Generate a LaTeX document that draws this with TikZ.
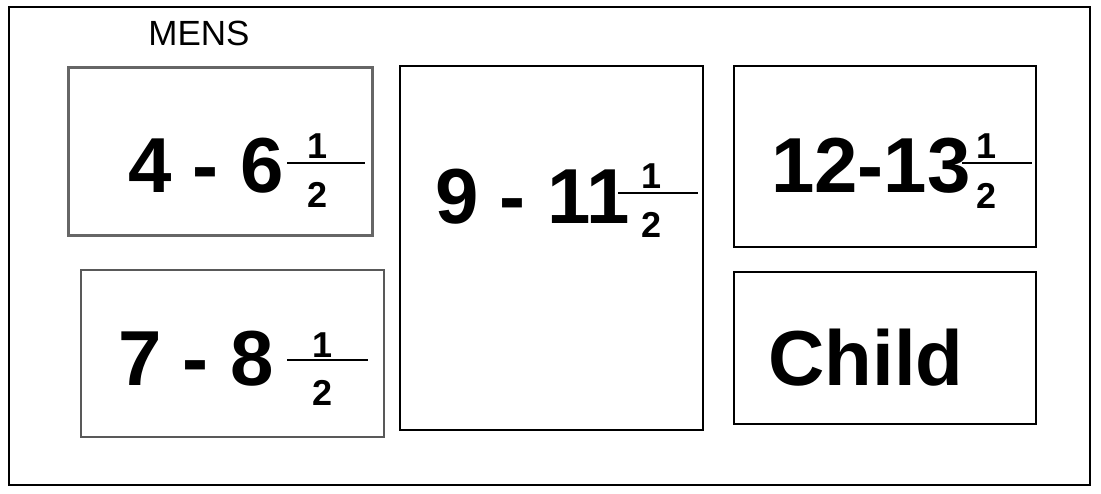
\documentclass[tikz,border=0pt]{standalone}
\usepackage{fontspec}
\setmainfont{Liberation Sans}
\begin{document}
\begin{tikzpicture}[x=1pt,y=-1pt,
  box/.style={draw=black,line width=1.5pt,inner sep=0pt,outer sep=0pt},
  big/.style={font=\fontsize{78}{78}\selectfont\bfseries,inner sep=0pt,outer sep=0pt},
  frac/.style={font=\fontsize{36}{36}\selectfont\bfseries,inner sep=0pt,outer sep=0pt},
  fracline/.style={line width=2pt}]
\useasboundingbox (0,0) rectangle (1101,493);
% outer frame
\node[box,line width=2pt,minimum width=1081pt,minimum height=478pt] (outer) at (549.5,246) {};
\node[font=\fontsize{35}{35}\selectfont,inner sep=0pt,anchor=base] (mens) at (199,45) {MENS};
% boxes
\node[box,draw=black!60,line width=3pt,minimum width=304pt,minimum height=168pt] (boxa) at (220,151) {};
\node[box,draw=black!65,line width=2pt,minimum width=303pt,minimum height=167pt] (boxb) at (232.5,353.5) {};
\node[box,minimum width=303pt,minimum height=364pt] (boxc) at (551.5,248) {};
\node[box,minimum width=302pt,minimum height=181pt] (boxd) at (885,156.5) {};
\node[box,minimum width=302pt,minimum height=152pt] (boxe) at (885,348) {};
% box A
\node[big,anchor=base west] (ta) at (128,192) {4 - 6};
\draw[fracline] (287,163) -- (365,163);
\node[frac,anchor=base] (na) at (318,158) {1};
\node[frac,anchor=base] (da) at (318,207) {2};
% box B
\node[big,anchor=base west] (tb) at (118,385) {7 - 8};
\draw[fracline] (287,360) -- (368,360);
\node[frac,anchor=base] (nb) at (323,357) {1};
\node[frac,anchor=base] (db) at (323,405) {2};
% box C
\node[big,anchor=base west] (tc) at (435,223) {9 - 11};
\draw[fracline] (618,193) -- (698,193);
\node[frac,anchor=base] (nc) at (652,188) {1};
\node[frac,anchor=base] (dc) at (652,237) {2};
% box D
\node[big,anchor=base west] (td) at (771,192) {12-13};
\draw[fracline] (962,163) -- (1032,163);
\node[frac,anchor=base] (nd) at (987,158) {1};
\node[frac,anchor=base] (dd) at (987,208) {2};
% box E
\node[big,anchor=base] (te) at (866,385) {Child};
\end{tikzpicture}
\end{document}
